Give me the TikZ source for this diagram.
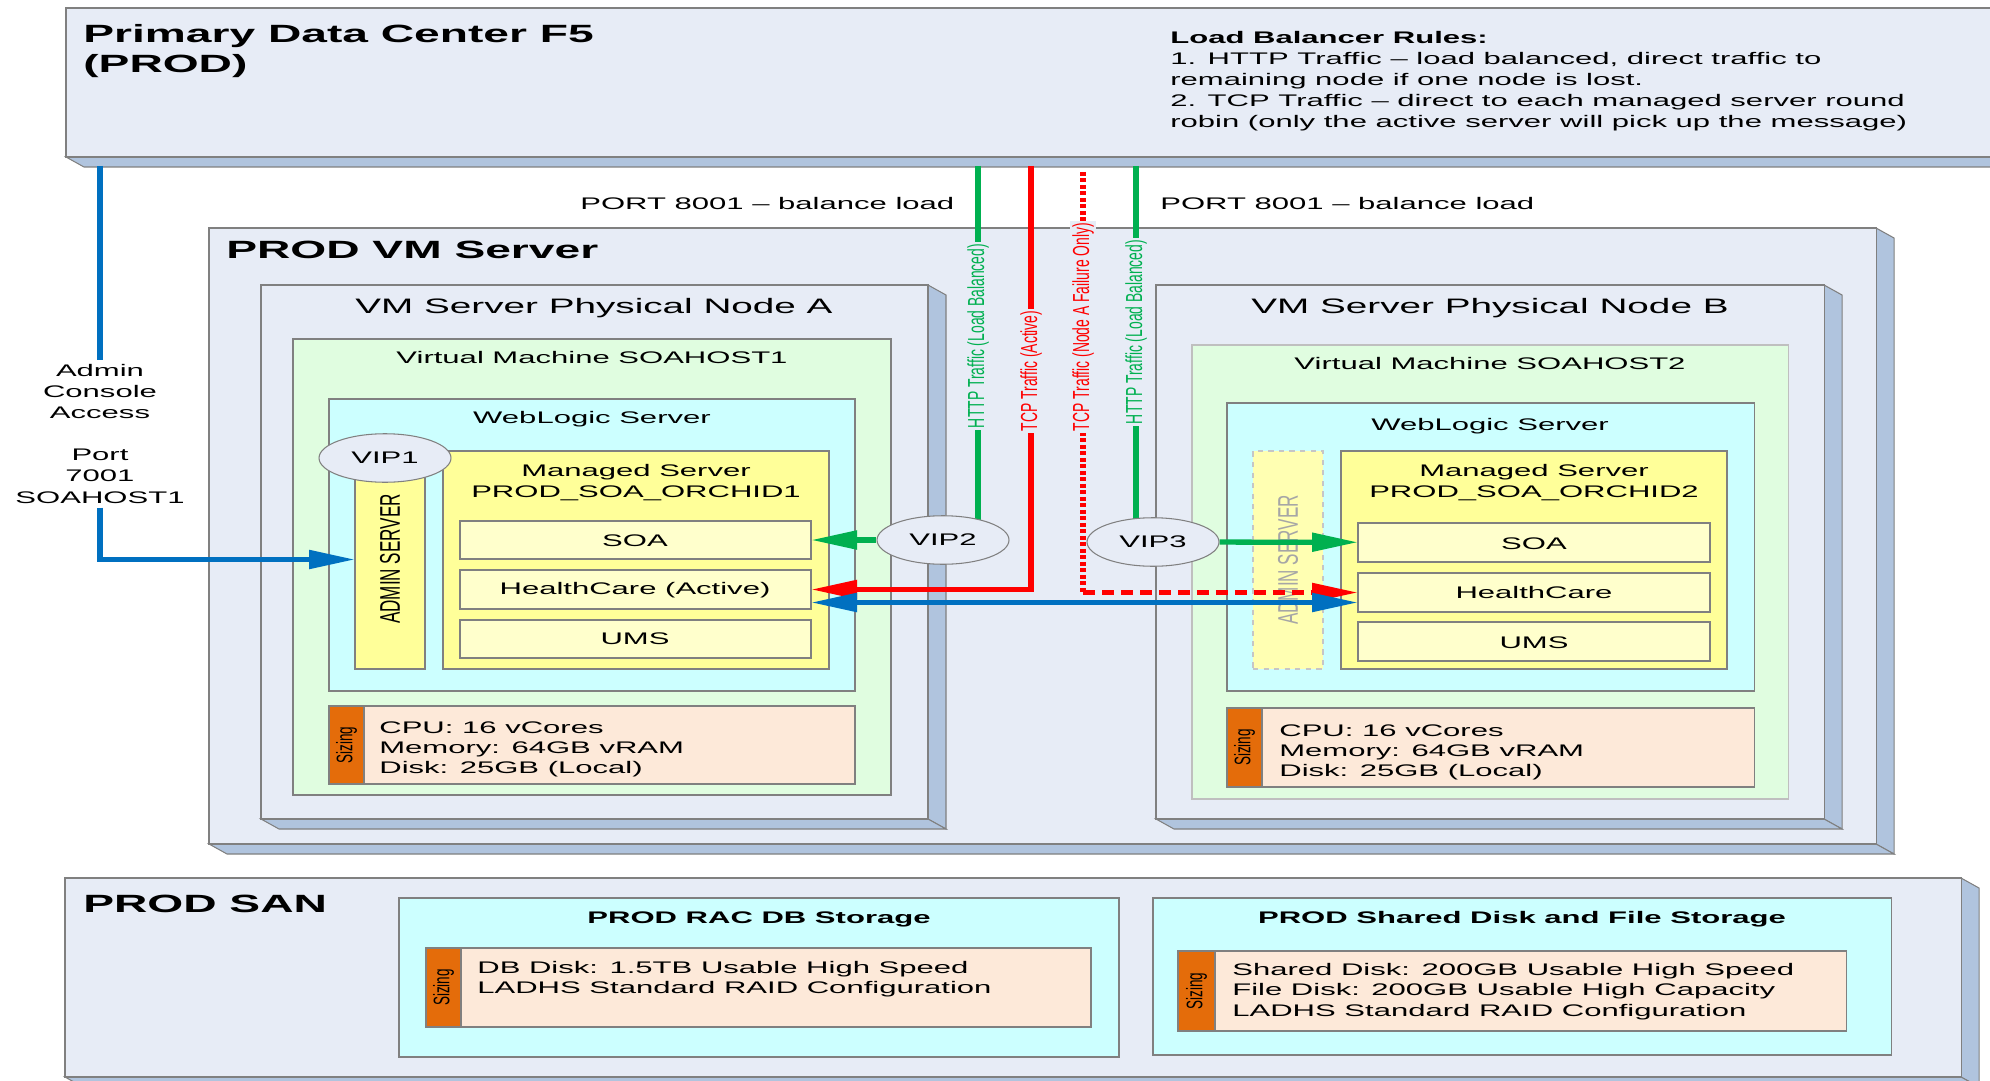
\documentclass[tikz,border=0pt]{standalone}
\usepackage{fontspec}
\setmainfont{Liberation Sans}[FakeStretch=1.85]
\newfontfamily\narrowfont{Liberation Sans}[FakeStretch=0.6]
\usetikzlibrary{fit,arrows.meta,shapes.geometric}

\definecolor{panelblue}{HTML}{E7ECF6}
\definecolor{sideblue}{HTML}{B0C4DE}
\definecolor{edgegray}{HTML}{808080}
\definecolor{vmgreen}{HTML}{E0FDE0}
\definecolor{wlcyan}{HTML}{CCFFFF}
\definecolor{msyellow}{HTML}{FFFF99}
\definecolor{leafyellow}{HTML}{FFFFCC}
\definecolor{peach}{HTML}{FDE9D9}
\definecolor{tagorange}{HTML}{E46C0A}
\definecolor{httpgreen}{HTML}{00B050}
\definecolor{tcpred}{HTML}{FF0000}
\definecolor{adminblue}{HTML}{0070C0}

\newcommand{\bodysize}{\fontsize{9.55}{12}\selectfont}

\pgfdeclarelayer{back}
\pgfdeclarelayer{front}
\pgfsetlayers{back,main,front}

% front panel with its two extruded faces: name, x0, y0, x1, y1
\newcommand{\slabbox}[5]{%
  \filldraw[side] (#4,#3) -- (#4+18,#3+10) -- (#4+18,#5+10) -- (#4,#5) -- cycle;
  \filldraw[side] (#2,#5) -- (#4,#5) -- (#4+18,#5+10) -- (#2+18,#5+10) -- cycle;
  \node[panel, fit={(#2,#3) (#4,#5)}] (#1) {};}

\begin{document}
\begin{tikzpicture}[
    x=0.02cm, y=-0.02cm,
    panel/.style={draw=edgegray, fill=panelblue, line width=0.6pt, inner sep=0pt, outer sep=0pt},
    side/.style={draw=edgegray, fill=sideblue, line width=0.6pt},
    vmbox/.style={panel, fill=vmgreen},
    wlbox/.style={panel, fill=wlcyan},
    msbox/.style={panel, fill=msyellow},
    leaf/.style={panel, fill=leafyellow},
    sizebox/.style={panel, fill=peach},
    sizetag/.style={panel, fill=tagorange},
    tagtxt/.style={rotate=90, inner sep=0pt, font=\narrowfont\fontsize{12.8}{14}\selectfont},
    admintxt/.style={rotate=90, inner sep=0pt, font=\narrowfont\fontsize{16.2}{17}\selectfont},
    vip/.style={ellipse, draw=edgegray, fill=panelblue, line width=0.6pt, minimum width=2.64cm, minimum height=0.97cm, inner sep=0pt, font=\bodysize},
    big/.style={inner sep=0pt, font=\fontsize{14.2}{17}\selectfont\bfseries},
    head/.style={inner sep=0pt, font=\fontsize{11.9}{14}\selectfont},
    txt/.style={inner sep=0pt, font=\bodysize},
    sizetxt/.style={inner sep=0pt, align=left, anchor=north west, font=\fontsize{9.55}{11.6}\selectfont},
    flowlbl/.style={rotate=90, fill=panelblue, inner sep=1pt, font=\narrowfont\fontsize{13.2}{14}\selectfont},
    http/.style={draw=httpgreen, line width=3pt},
    tcp/.style={draw=tcpred, line width=3pt},
    console/.style={draw=adminblue, line width=3pt},
    bigtip/.style={-{Triangle[length=0.92cm, width=0.36cm]}},
    bothtips/.style={{Triangle[length=0.92cm, width=0.36cm]}-{Triangle[length=0.92cm, width=0.36cm]}}
]
    \useasboundingbox (0,0) rectangle (1990,1081);

    % Boxes, back to front
    \begin{pgfonlayer}{back}
    \slabbox{f5}{66}{8}{2010}{157}
    \slabbox{vmsrv}{209}{228}{1876}{844}
    \slabbox{nodea}{261}{285}{928}{819}
    \slabbox{nodeb}{1156}{285}{1824}{819}
    \slabbox{san}{65}{878}{1961}{1077}

    \node[vmbox, fit={(293,339) (891,795)}] (vm1) {};
    \node[vmbox, draw=edgegray!50, fit={(1192,345) (1788,799)}] (vm2) {};
    \node[wlbox, fit={(329,399) (855,691)}] (wl1) {};
    \node[wlbox, fit={(1227,403) (1754,691)}] (wl2) {};
    \node[msbox, fit={(443,451) (829,669)}] (ms1) {};
    \node[msbox, fit={(1341,451) (1727,669)}] (ms2) {};
    \node[msbox, fit={(355,470) (425,669)}] (adm1) {};
    \node[msbox, fill=msyellow!75, draw=edgegray!45, dashed, fit={(1253,451) (1323,669)}] (adm2) {};

    \node[leaf, fit={(460,521) (811,559)}] (soa1) {};
    \node[leaf, fit={(460,570) (811,609)}] (hc1) {};
    \node[leaf, fit={(460,620) (811,658)}] (ums1) {};
    \node[leaf, fit={(1358,523) (1710,562)}] (soa2) {};
    \node[leaf, fit={(1358,573) (1710,612)}] (hc2) {};
    \node[leaf, fit={(1358,622) (1710,661)}] (ums2) {};

    \node[sizebox, fit={(329,706) (855,784)}] (size1) {};
    \node[sizetag, fit={(329,706) (364,784)}] (tag1) {};
    \node[sizebox, fit={(1227,708) (1754,787)}] (size2) {};
    \node[sizetag, fit={(1227,708) (1262,787)}] (tag2) {};

    \node[wlbox, fit={(399,898) (1119,1057)}] (rac) {};
    \node[wlbox, fit={(1153,898) (1891,1055)}] (shared) {};
    \node[sizebox, fit={(426,948) (1091,1027)}] (size3) {};
    \node[sizetag, fit={(426,948) (461,1027)}] (tag3) {};
    \node[sizebox, fit={(1178,951) (1846,1031)}] (size4) {};
    \node[sizetag, fit={(1178,951) (1215,1031)}] (tag4) {};
    \end{pgfonlayer}

    % Titles and texts
    \node[big, align=left, anchor=north west] (f5title) at (83,24) {Primary Data Center F5\\(PROD)};
    \node[txt, align=left, anchor=north west] (rules) at (1170,31) {\textbf{Load Balancer Rules:}\\1. HTTP Traffic – load balanced, direct traffic to\\remaining node if one node is lost.\\2. TCP Traffic – direct to each managed server round\\robin (only the active server will pick up the message)};
    \node[txt, anchor=base west] (port1) at (580,210) {PORT 8001 – balance load};
    \node[txt, anchor=base west] (port2) at (1160,210) {PORT 8001 – balance load};
    \node[big, anchor=base west] (vmtitle) at (226,258) {PROD VM Server};
    \node[head, anchor=base] (atitle) at (594,313) {VM Server Physical Node A};
    \node[head, anchor=base] (btitle) at (1490,313) {VM Server Physical Node B};
    \node[txt, anchor=base] (vm1title) at (592,363) {Virtual Machine SOAHOST1};
    \node[txt, anchor=base] (vm2title) at (1490,369) {Virtual Machine SOAHOST2};
    \node[txt, anchor=base] (wl1title) at (592,423) {WebLogic Server};
    \node[txt, anchor=base] (wl2title) at (1490,430) {WebLogic Server};
    \node[txt, align=center, anchor=north] (ms1title) at (636,464) {Managed Server\\PROD\_SOA\_ORCHID1};
    \node[txt, align=center, anchor=north] (ms2title) at (1534,464) {Managed Server\\PROD\_SOA\_ORCHID2};
    \node[admintxt] (adm1txt) at (390,559) {ADMIN SERVER};
    \node[admintxt, text=black!35] (adm2txt) at (1288,560) {ADMIN SERVER};

    \node[txt, anchor=base] (soa1txt) at (635,546) {SOA};
    \node[txt, anchor=base] (hc1txt) at (635,594) {HealthCare (Active)};
    \node[txt, anchor=base] (ums1txt) at (635,644) {UMS};
    \node[txt, anchor=base] (soa2txt) at (1534,549) {SOA};
    \node[txt, anchor=base] (hc2txt) at (1534,598) {HealthCare};
    \node[txt, anchor=base] (ums2txt) at (1534,648) {UMS};

    \node[sizetxt] (size1txt) at (379,721) {CPU: 16 vCores\\Memory: 64GB vRAM\\Disk: 25GB (Local)};
    \node[sizetxt] (size2txt) at (1279,724) {CPU: 16 vCores\\Memory: 64GB vRAM\\Disk: 25GB (Local)};
    \node[tagtxt] (tag1txt) at (tag1) {Sizing};
    \node[tagtxt] (tag2txt) at (tag2) {Sizing};

    \node[big, anchor=base west] (santitle) at (83,912) {PROD SAN};
    \node[txt, anchor=base, font=\bodysize\bfseries] (ractitle) at (759,923) {PROD RAC DB Storage};
    \node[txt, anchor=base, font=\bodysize\bfseries] (sharedtitle) at (1522,923) {PROD Shared Disk and File Storage};
    \node[sizetxt] (size3txt) at (477,961) {DB Disk: 1.5TB Usable High Speed\\LADHS Standard RAID Configuration};
    \node[sizetxt] (size4txt) at (1232,963) {Shared Disk: 200GB Usable High Speed\\File Disk: 200GB Usable High Capacity\\LADHS Standard RAID Configuration};
    \node[tagtxt] (tag3txt) at (tag3) {Sizing};
    \node[tagtxt] (tag4txt) at (tag4) {Sizing};

    \node[txt, inner sep=0.08cm, align=center, anchor=north] (console) at (100,360) {Admin\\Console\\Access\\[12pt]Port\\7001\\SOAHOST1};

    % VIPs sit on top of everything
    \begin{pgfonlayer}{front}
    \node[vip] (vip1) at (385,458) {VIP1};
    \node[vip] (vip2) at (943,540) {VIP2};
    \node[vip] (vip3) at (1153,542) {VIP3};
    \end{pgfonlayer}

    % Traffic from the F5
    \coordinate (httpA) at (978,166);
    \coordinate (tcpA) at (1031,166);
    \coordinate (tcpB) at (1083,172);
    \coordinate (httpB) at (1136,166);
    \coordinate (adminup) at (100,166);
    \coordinate (failturn) at (tcpB |- hc2.west);

    \draw[http] (httpA) -- (httpA |- vip2.center);
    \draw[http] (httpB) -- (httpB |- vip3.center);
    \draw[http, bigtip] (vip2) -- (soa1);
    \draw[http, bigtip] (vip3) -- (soa2);
    \draw[tcp, bigtip] (tcpA) |- (hc1);
    \draw[tcp, dash pattern=on 0.08cm off 0.05cm] (tcpB) -- (failturn);
    \draw[tcp, dash pattern=on 0.24cm off 0.14cm, bigtip] (failturn) -- (hc2);
    \draw[console] (adminup) -- (console);
    \draw[console, bigtip] (console) |- ([yshift=0.2cm]adm1.west);
    \draw[console, bothtips] ([yshift=-0.26cm]hc1.east) -- ([yshift=-0.26cm]hc1.east -| hc2.west);

    \node[flowlbl, text=httpgreen] (lblA) at (978,336) {HTTP Traffic (Load Balanced)};
    \node[flowlbl, text=tcpred] (lblB) at (1031,371) {TCP Traffic (Active)};
    \node[flowlbl, text=tcpred] (lblC) at (1083,327) {TCP Traffic (Node A Failure Only)};
    \node[flowlbl, text=httpgreen] (lblD) at (1136,332) {HTTP Traffic (Load Balanced)};
\end{tikzpicture}
\end{document}
